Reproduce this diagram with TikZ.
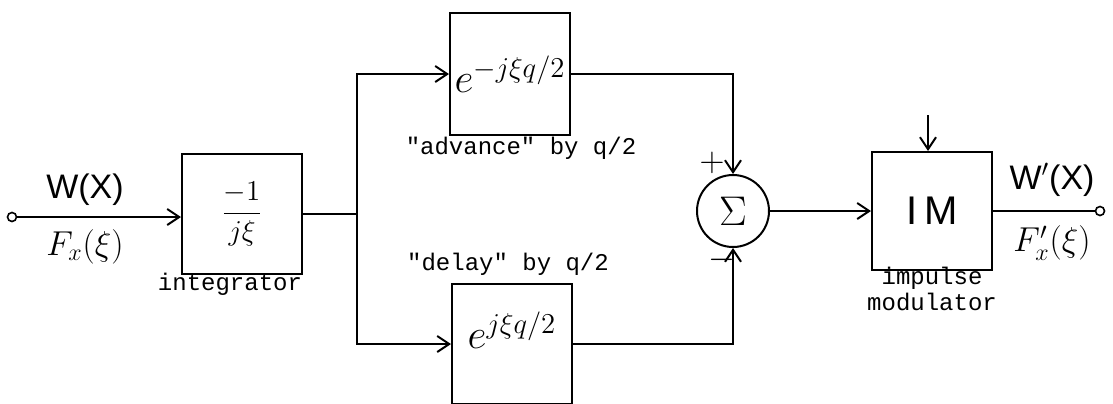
\documentclass[tikz,border=0pt]{standalone}
\usepackage{fontspec}
\setmonofont{Liberation Mono}
\setsansfont{Liberation Sans}
\usetikzlibrary{arrows.meta}
\begin{document}
\begin{tikzpicture}[x=0.5pt,y=-0.5pt,line width=1pt,
  blk/.style={draw,minimum width=60pt,minimum height=60pt,inner sep=0pt},
  lbl/.style={font=\fontsize{12}{13}\selectfont\ttfamily,inner sep=0pt},
  hand/.style={font=\fontsize{17}{18}\selectfont,inner sep=0pt},
  arr/.style={-{Straight Barb[length=6pt,width=8pt]}},
  port/.style={draw,circle,minimum size=4.5pt,inner sep=0pt,line width=0.8pt}]
\useasboundingbox (0,0) rectangle (1113,403);
% blocks
\node[port] (in) at (12,217) {};
\node[blk] (integ) at (242,214) {\fontsize{15}{16}\selectfont$\displaystyle\frac{-1}{j\xi}$};
\coordinate (br) at (357,214);
\node[blk,minimum height=61pt] (adv) at (510,74) {\fontsize{22}{24}\selectfont$e^{-j\xi q/2}$};
\node[blk] (del) at (512,344) {};
\node[font=\fontsize{22}{24}\selectfont] at (512,330) {$e^{j\xi q/2}$};
\node[draw,circle,minimum size=36pt,inner sep=0pt] (sum) at (733,211) {\fontsize{20}{22}\selectfont$\Sigma$};
\node[blk,minimum height=59pt] (im) at (932,211) {\fontsize{20}{22}\selectfont\sffamily I\,M};
\node[port] (out) at (1100,211) {};
\coordinate (clk) at (928,115);
% connectors
\draw[arr] (in) -- (integ.west |- in);
\draw (integ.east |- br) -- (br);
\draw[arr] (br) |- (adv.west);
\draw[arr] (br) |- (del.west);
\draw[arr] (adv.east) -| (sum.north);
\draw[arr] (del.east) -| (sum.south);
\draw[arr] (sum) -- (im.west |- sum);
\draw (im.east) -- (out);
\draw[arr] (clk) -- (clk |- im.north);
% labels
\node[hand] at (85,190) {\sffamily W(X)};
\node[hand] at (85,247) {$F_x(\xi)$};
\node[lbl] at (230,284) {integrator};
\node[lbl] at (521,148) {"advance" by q/2};
\node[lbl] at (508,264) {"delay" by q/2};
\node[hand] at (712,163) {$+$};
\node[hand] at (722,260) {$-$};
\node[hand] at (1052,180) {\sffamily W$'$(X)};
\node[hand] at (1052,243) {$F'_x(\xi)$};
\node[lbl,align=center] at (932,289) {impulse\\modulator};
\end{tikzpicture}
\end{document}
